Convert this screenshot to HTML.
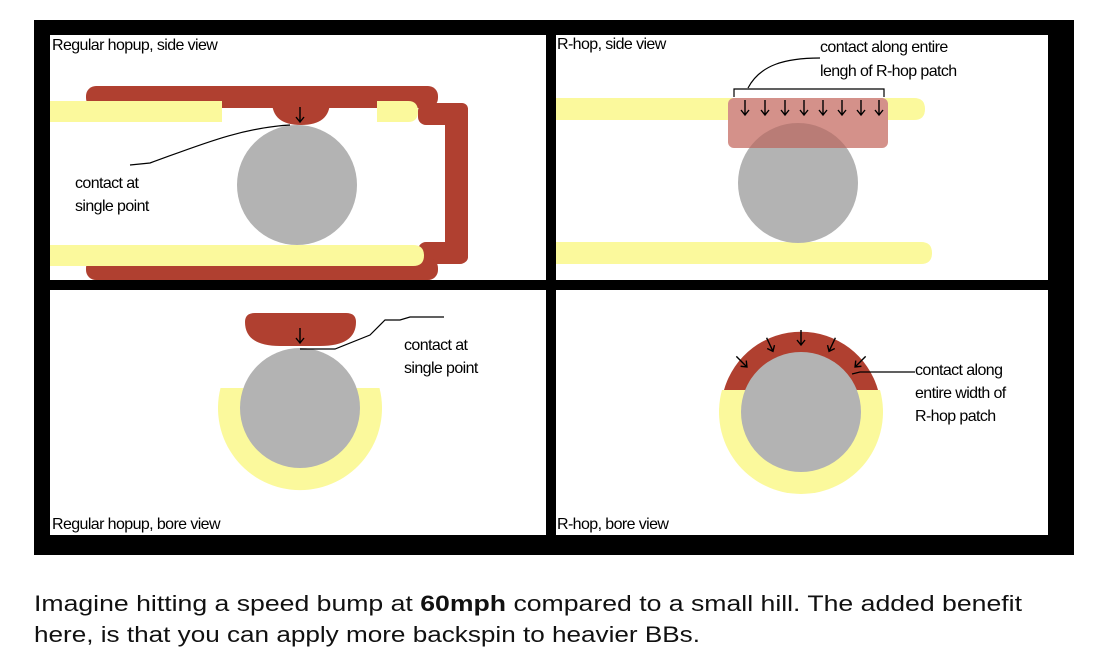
<!DOCTYPE html>
<html><head><meta charset="utf-8"><style>
html,body{margin:0;padding:0;background:#fff;}
svg{display:block;}
text{font-family:"Liberation Sans",sans-serif;}
</style></head><body>
<svg width="1102" height="668" viewBox="0 0 1102 668" xmlns="http://www.w3.org/2000/svg">
<defs>
<g id="ar"><path d="M0,-8 V7 M-4,2 L0,7 L4,2" fill="none" stroke="#000" stroke-width="1.4"/></g>
<clipPath id="pc"><rect x="728" y="98" width="160" height="50" rx="6"/></clipPath>
</defs>
<rect x="34" y="20" width="1040" height="535" fill="#000"/>
<rect x="50" y="35" width="496" height="245" fill="#fff"/>
<rect x="556" y="35" width="492" height="245" fill="#fff"/>
<rect x="50" y="290" width="496" height="245" fill="#fff"/>
<rect x="556" y="290" width="492" height="245" fill="#fff"/>

<!-- Panel 1 -->
<g fill="#b04030">
<rect x="86" y="86" width="352" height="22" rx="10"/>
<rect x="418" y="103" width="50" height="22" rx="8"/>
<rect x="445" y="103" width="23" height="160" rx="6"/>
<rect x="418" y="242" width="50" height="22" rx="8"/>
<rect x="86" y="258" width="352" height="22" rx="10"/>
<path d="M272,101 H330 Q330,125 301,125 Q272,125 272,101 Z"/>
</g>
<rect x="50" y="101" width="172" height="21" fill="#fbf99c"/>
<path d="M377,101 H408 Q418,101 418,111.5 Q418,122 408,122 H377 Z" fill="#fbf99c"/>
<path d="M50,245 H413 Q424,245 424,255.5 Q424,266 413,266 H50 Z" fill="#fbf99c"/>
<circle cx="297" cy="185" r="60" fill="#b3b3b3"/>
<use href="#ar" x="300" y="115"/>
<path d="M290,125 C240,128 200,145 150,163 L130,165" fill="none" stroke="#000" stroke-width="1.2"/>
<text x="52" y="50" font-size="16" letter-spacing="-0.6">Regular hopup, side view</text>
<text x="75" y="188" font-size="16" letter-spacing="-0.6">contact at</text>
<text x="75" y="211" font-size="16" letter-spacing="-0.6">single point</text>

<!-- Panel 2 -->
<path d="M556,98 H914 Q925,98 925,109 Q925,120 914,120 H556 Z" fill="#fbf99c"/>
<path d="M556,242 H921 Q932,242 932,253 Q932,264 921,264 H556 Z" fill="#fbf99c"/>
<circle cx="798" cy="183" r="60" fill="#b3b3b3"/>
<rect x="728" y="98" width="160" height="50" rx="6" fill="#d4918a"/>
<circle cx="798" cy="183" r="60" fill="#b97c76" clip-path="url(#pc)"/>
<path d="M734,97 V89 H884 V97" fill="none" stroke="#000" stroke-width="1.2"/>
<path d="M748,88 C760,65 785,58 820,58" fill="none" stroke="#000" stroke-width="1.2"/>
<use href="#ar" x="745" y="108"/><use href="#ar" x="765" y="108"/>
<use href="#ar" x="785" y="108"/><use href="#ar" x="804" y="108"/>
<use href="#ar" x="823" y="108"/><use href="#ar" x="842" y="108"/>
<use href="#ar" x="861" y="108"/><use href="#ar" x="879" y="108"/>
<text x="557" y="49" font-size="16" letter-spacing="-0.6">R-hop, side view</text>
<text x="820" y="52" font-size="16" letter-spacing="-0.6">contact along entire</text>
<text x="820" y="76" font-size="16" letter-spacing="-0.6">lengh of R-hop patch</text>

<!-- Panel 3 -->
<path d="M220.5,388 H379.5 A82,82 0 1 1 220.5,388 Z" fill="#fbf99c"/>
<path d="M255,313 H346 Q356,313 356,322 Q356,346 320,346 H280 Q245,346 245,322 Q245,313 255,313 Z" fill="#b04030"/>
<circle cx="300" cy="408" r="60" fill="#b3b3b3"/>
<use href="#ar" x="300" y="336"/>
<path d="M300,349 H335 L370,335 L385,320 H400 L410,317 H444" fill="none" stroke="#000" stroke-width="1.2"/>
<text x="404" y="350" font-size="16" letter-spacing="-0.6">contact at</text>
<text x="404" y="373" font-size="16" letter-spacing="-0.6">single point</text>
<text x="52" y="529" font-size="16" letter-spacing="-0.6">Regular hopup, bore view</text>

<!-- Panel 4 -->
<path d="M722,390 H880 A82,82 0 1 1 722,390 Z" fill="#fbf99c"/>
<path d="M724,390 A80,80 0 0 1 878,390 Z" fill="#b04030"/>
<circle cx="801" cy="412" r="60" fill="#b3b3b3"/>
<use href="#ar" transform="translate(801,338)"/>
<use href="#ar" transform="translate(770,345) rotate(-25)"/>
<use href="#ar" transform="translate(832,345) rotate(25)"/>
<use href="#ar" transform="translate(742,362) rotate(-45)"/>
<use href="#ar" transform="translate(860,362) rotate(45)"/>
<path d="M852,374 L860,372 H915" fill="none" stroke="#000" stroke-width="1.2"/>
<text x="915" y="375" font-size="16" letter-spacing="-0.6">contact along</text>
<text x="915" y="398" font-size="16" letter-spacing="-0.6">entire width of</text>
<text x="915" y="421" font-size="16" letter-spacing="-0.6">R-hop patch</text>
<text x="557" y="529" font-size="16" letter-spacing="-0.6">R-hop, bore view</text>

<!-- Caption -->
<text x="34" y="611" font-size="22" fill="#111" textLength="988" lengthAdjust="spacingAndGlyphs">Imagine hitting a speed bump at <tspan font-weight="bold">60mph</tspan> compared to a small hill. The added benefit</text>
<text x="34" y="642" font-size="22" fill="#111" textLength="666" lengthAdjust="spacingAndGlyphs">here, is that you can apply more backspin to heavier BBs.</text>
</svg>
</body></html>
